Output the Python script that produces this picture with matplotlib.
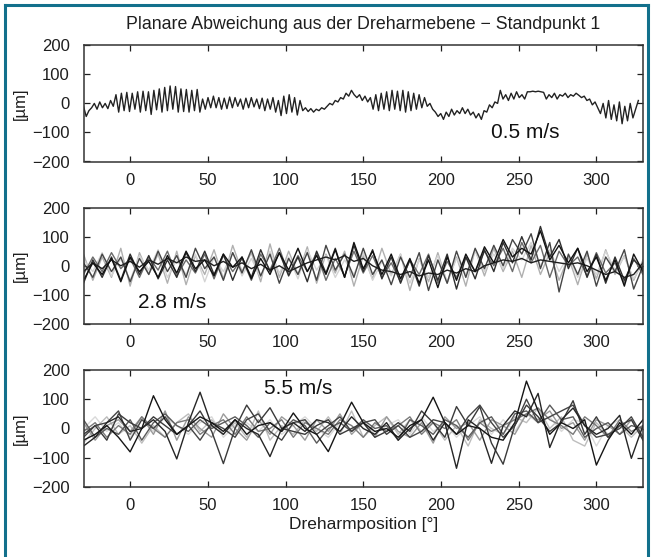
import numpy as np
import matplotlib
matplotlib.use("Agg")
import matplotlib.pyplot as plt
from matplotlib.lines import Line2D

plt.rcParams['font.family'] = ['Liberation Sans Narrow', 'Liberation Sans', 'DejaVu Sans']

# ---------------- data ----------------
title = "Planare Abweichung aus der Dreharmebene \u2212 Standpunkt 1"
xlabel = "Dreharmposition [\u00b0]"
ylabel = "[\u00b5m]"
xticks = [0, 50, 100, 150, 200, 250, 300]
yticks = [-200, -100, 0, 100, 200]
x_start, x_end = -30, 330
speed_labels = ["0.5 m/s", "2.8 m/s", "5.5 m/s"]

# 0.5 m/s  (single run)
top_series = [
    -10, -45, -25,
    -15, 0, -20, 5, -15, 0, -18, 10, -10,
    30, -30, 35, -25, 38, -28, 35, -20, 40, -30, 42, -25, 40, -38, 45, -22, 50, -30, 55, -25,
    60, -20, 58, -30, 50, -28, 48, -30, 45, -25, 48,
    -30, 15, -20, 20, -15, 25, -15, 20, -20, 18, -18, 22, -15, 20, -10, 15, -20, 18, -15, 20,
    -12, 15, -18, 18, -25, 15, -20, 20, -30,
    10, -42, 25, -35, 30, -30, 20, -40, 10,
    -25, -15, -28, -18, -30, -20, -25, -15, -20,
    -10, 0, -5, 10, 5, 20, 15, 35, 25, 45, 30,
    20, 30, 10, 25, 5, 20,
    -20, 30, -25, 35, -20, 40, -25, 45, -20, 42, -25, 45, -30, 40, -25, 35, -20, 30, -15, 20,
    -10, 0, -20, -30, -45, -35,
    -55, -30, -45, -20, -40, -25, -35, -15, -35, -20, -40, -30, -50, -35,
    -55, -25, -30, -5, -15, 5, 0, 45, 15,
    30, 10, 35, 15, 40, 20, 30, 15, 40,
    40, 42, 40, 42, 40, 38,
    15, 30, 20, 35, 15, 30, 25, 35, 20, 30, 25, 35, 28, 20,
    25, 10, 15, -5, 5, -15,
    -35, 0, -50, 10, -55, -5, -60, 5, -70, -10, -60, 0, -50, -20, 10,
]

# 2.8 m/s  (several runs)
mid_series = [
    [-20, 10, -10, 20, 0, 15, -5, 20, 5, 25, 10, 30, 15, 20, 0, 15, -5, 10, -10, 5, -15, 0, -20, -5, 10,
     20, 30, 20, 35, 15, 25, 0, -15, -20, -30, -20, -35, -25, -30, -15, -25, -10, -20, 0, 10, 20, 15, 25,
     10, 20, 15, 10, 5, 10, 0, -15, -30, -20, -40, -30, 10],
    [-60, 20, -40, 30, -50, 40, -30, 35, -45, 20, -40, 45, -20, 50, -30, 40, -50, 30, -40, 55, -20, 45, -35,
     30, -55, 50, -25, 60, -40, 70, -20, 55, -45, 30, -60, 20, -70, 35, -50, 40, -80, 30, -45, 55, -20, 80,
     10, 100, 20, 135, 30, 90, -10, 60, -40, 40, -60, 30, -50, 20, -10],
    [10, -40, 40, -20, 30, -55, 25, -30, 50, -20, 35, -40, 60, -10, 30, -50, 45, -25, 55, -35, 40, -60, 25,
     -30, 45, -50, 70, -15, 40, -40, 60, -30, 20, -65, 30, -40, 45, -85, 20, -60, 50, -40, 60, -10, 70, 0,
     90, 40, 110, -10, 80, -90, 40, -30, 50, -70, 30, -20, 55, -80, 0],
    [-30, 30, -20, 45, -10, 25, -40, 30, -15, 50, -35, 20, -25, 40, -45, 35, -20, 25, -50, 40, -15, 60, -30,
     35, -20, 45, -50, 25, -35, 50, -25, 35, -40, 10, -55, 20, -30, 40, -60, 15, -40, 30, -20, 50, 0, 60,
     -20, 80, 10, 70, -40, 50, 0, 30, -35, 45, -25, 10, -60, 25, -30],
    [40, -50, 30, -40, 60, -70, 45, -30, 40, -60, 50, -65, 35, -30, 55, -45, 70, -20, 45, -55, 75, -40, 50,
     -30, 65, -60, 40, -25, 50, -70, 35, -45, 60, -30, 40, -85, 25, -55, 45, -60, 30, -70, 55, -35, 60, -20,
     50, -40, 70, -30, 45, -50, 30, -65, 40, -45, 55, -30, 35, -50, 20],
    [20, -20, 45, -35, 25, -50, 35, -15, 55, -40, 20, -30, 40, -55, 30, -20, 45, -35, 25, -40, 50, -25, 30,
     -45, 55, -15, 35, -40, 20, -30, 45, -50, 15, -35, 40, -60, 20, -40, 35, -55, 25, -30, 50, -20, 40, -10,
     60, 20, 80, 0, 55, -20, 35, -40, 25, -30, 50, -15, 30, -45, 10],
    [-50, 10, -30, 25, -55, 30, -20, 15, -40, 35, -25, 50, -10, 20, -35, 40, -5, 30, -45, 25, -30, 45, -15,
     60, -20, 35, -30, 55, -40, 80, -10, 50, -30, 40, -45, 25, -60, 20, -75, 30, -50, 40, -20, 65, 10, 90,
     30, 60, 40, 120, 20, 70, 10, 60, -20, 30, -50, 20, -70, 40, -20],
]
mid_colors = ['#1e1e1e', '#2e2e2e', '#454545', '#6a6a6a', '#b0b0b0', '#d4d4d4', '#111111']

# 5.5 m/s  (several runs)
bot_series = [
    [-40, -20, 10, -30, -80, 0, 112, 30, -20, 10, 40, 20, -10, 30, -20, 10, 20, -10, 53, 0, -20, -79, 10,
     90, 20, -10, 0, -30, 10, 30, 107, 20, -20, 10, 0, -30, -40, 20, 162, 60, -20, 20, 0, 30, -125, -40,
     20, -20, 30],
    [-60, -30, 20, 40, -10, 0, 30, -10, -104, 20, 124, 10, -20, 30, 0, -20, -96, 0, 20, -10, 30, 20, -10,
     40, 0, -20, 20, -40, 0, 30, -40, 20, -136, 30, 0, -119, 10, 60, 40, 120, -65, 30, 70, 10, -20, 0, 45,
     -102, 10],
    [-20, 10, -40, 50, 20, 0, 40, 10, -20, 10, 60, -10, -120, 0, 80, 20, 71, 0, -10, -20, 10, 30, -20, 0,
     20, -30, -10, 20, -10, 60, 20, -30, 75, 10, 75, -50, -122, 10, 80, 40, -10, 20, 95, -20, 40, -30, 10,
     30, -40],
    [30, -30, 0, -20, 30, -40, 20, 50, 10, -10, 30, 0, 20, 40, 10, -30, 20, -10, 30, 10, -50, 0, 20, -10,
     30, 0, 10, -40, 30, 10, -20, 30, 10, -30, 20, 40, -20, 50, 60, 20, 80, 30, 40, -30, 0, 20, -20, 10, 0],
    [-10, 20, -30, 10, -20, 40, 0, -30, 20, 30, -20, 10, 30, -20, 40, -10, 0, 30, -30, 20, 0, -20, 30, 10,
     -30, 20, -10, 10, 40, -20, 20, 0, 30, -40, 20, -10, 10, 30, 50, 70, 30, 10, -20, 40, 10, -30, 30, -10,
     10],
    [20, -40, 10, 30, -10, 40, -20, 60, -40, 40, 0, -30, 50, 0, -40, 30, -20, 40, 10, -40, 30, -10, 50, -20,
     20, -30, 40, -10, -30, 20, -50, 40, 0, 20, -40, 30, 10, -20, 50, 30, 60, 0, 20, -40, 30, 10, -20, 30,
     -30],
    [-50, 0, 40, -20, 10, -50, 10, -30, 20, 50, -10, 30, -20, 20, -30, 60, -40, 10, -20, 30, -10, 40, -20,
     60, -30, 10, 40, -20, 30, -10, 20, -40, 10, -60, 30, 0, -20, 40, 20, 70, 0, 40, -40, -60, 20, -20, 10,
     -30, 10],
    [0, 40, -10, 20, -30, 30, -10, 40, 10, -20, 20, 40, -30, 10, 20, -10, 30, -20, 10, 40, 0, -30, 20, -10,
     30, -20, 10, 30, -20, 40, -10, 20, -30, 10, 40, -20, 30, -10, 50, 20, 40, -10, 30, 20, -60, 10, 30,
     -20, 0],
    [-30, 10, 20, 60, -40, 30, 0, 40, -20, 10, -40, 20, 0, -30, 30, 50, -10, -40, 20, 30, -20, 10, 40, -10,
     20, 30, -20, 10, -30, -10, 30, 20, -20, 40, 80, 20, -30, 10, 100, 20, 40, 60, 80, 10, -30, -20, 0, 40,
     -30],
]
bot_colors = ['#151515', '#262626', '#3a3a3a', '#5a5a5a', '#7a7a7a', '#9a9a9a', '#bdbdbd', '#d9d9d9', '#444444']

label_pos = [(254, -99), (27, -125), (108, 137)]

# ---------------- figure ----------------
fig = plt.figure(figsize=(6.52, 5.57), dpi=100)
left, width = 83.5 / 652, (643 - 83.5) / 652
boxes = [(45.3, 161.5), (207.5, 324.0), (370.0, 487.0)]
axes = []
for (t, b) in boxes:
    ax = fig.add_axes([left, 1 - b / 557, width, (b - t) / 557])
    axes.append(ax)

TXT = '#1e1e1e'

def style(ax):
    ax.set_xlim(x_start, x_end)
    ax.set_ylim(-200, 200)
    ax.set_xticks(xticks)
    ax.set_yticks(yticks)
    ax.tick_params(direction='in', length=4, width=0.9, top=True, right=True,
                   labelsize=12, colors=TXT)
    ax.tick_params(axis='x', pad=8)
    ax.tick_params(axis='y', pad=10)
    for s in ax.spines.values():
        s.set_color('#333333')
        s.set_linewidth(1.1)
    ax.set_ylabel(ylabel, fontsize=12, labelpad=3, color=TXT)

def xs(vals):
    return np.linspace(x_start, x_end, len(vals))

ax = axes[0]
top_x = np.linspace(x_start, 327, len(top_series))
ax.plot(top_x, top_series, color='#222222', lw=1.0)
style(ax)

ax = axes[1]
order = [4, 5, 3, 2, 1, 0, 6]
for i in order:
    ax.plot(xs(mid_series[i]), mid_series[i], color=mid_colors[i], lw=1.0)
style(ax)

ax = axes[2]
order = [7, 6, 5, 4, 3, 8, 2, 1, 0]
for i in order:
    ax.plot(xs(bot_series[i]), bot_series[i], color=bot_colors[i], lw=1.0)
style(ax)

for ax, txt, (px, py) in zip(axes, speed_labels, label_pos):
    ax.text(px, py, txt, fontsize=15, ha='center', va='center', color='#111111')

axes[0].set_title(title, fontsize=12.8, pad=12, color=TXT)
axes[2].set_xlabel(xlabel, fontsize=12.5, labelpad=3, color=TXT)

# teal frame around the figure
frame_color = '#12708c'
fig.add_artist(Line2D([5 / 652, 5 / 652], [0, 1 - 5 / 557], transform=fig.transFigure,
                      color=frame_color, lw=2.2))
fig.add_artist(Line2D([5 / 652, 648 / 652], [1 - 5 / 557, 1 - 5 / 557], transform=fig.transFigure,
                      color=frame_color, lw=2.2))
fig.add_artist(Line2D([648 / 652, 648 / 652], [0, 1 - 5 / 557], transform=fig.transFigure,
                      color=frame_color, lw=2.2))

fig.savefig("out.png", dpi=100)
